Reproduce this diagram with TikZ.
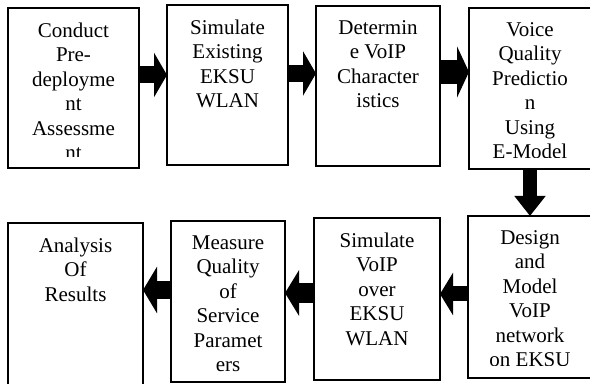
\documentclass[tikz,border=0pt]{standalone}
\usepackage{fontspec}
\setmainfont{Liberation Serif}
\usetikzlibrary{positioning}
\usetikzlibrary{arrows.meta}

\begin{document}
\begin{tikzpicture}[x=1pt,y=1pt,
	stagebox/.style={draw=black,line width=.6pt,minimum height=80pt,inner sep=0pt,outer sep=0pt,anchor=north west},
	stagetext/.style={align=center,inner sep=0pt,outer sep=0pt,font=\fontsize{10.5}{12.25}\selectfont},
	blockarrow/.style={line width=8.5pt,-{Triangle[length=6.5pt,width=22pt]}}]
	\useasboundingbox (0,0) rectangle (295,192);

	% first row, left to right
	\node [stagebox,minimum width=65.5pt] at (4,188) (pre_deploy) {};
	\node [stagebox,minimum width=60.5pt] at (83.5,189.5) (sim_wlan) {};
	\node [stagebox,minimum width=62pt] at (158,189) (voip_char) {};
	\node [stagebox,minimum width=61pt,minimum height=80.5pt] at (234.5,188) (e_model) {};

	% second row, right to left
	\node [stagebox,minimum width=62pt,minimum height=81pt] at (234,84) (design_voip) {};
	\node [stagebox,minimum width=63pt,minimum height=81pt] at (157,83) (sim_voip) {};
	\node [stagebox,minimum width=57pt,minimum height=80.5pt] at (85.5,81.5) (measure_qos) {};
	\node [stagebox,minimum width=67.5pt,minimum height=100pt] at (4,80.5) (analysis) {};

	% texts, the long ones cut off at the bottom margin
	\begin{scope}
		\clip (pre_deploy.north west) rectangle ([yshift=5.5pt]pre_deploy.south east);
		\node [stagetext,below=7.3pt of pre_deploy.north] (pre_deploy_txt) {Conduct\\Pre-\\deployme\\nt\\Assessme\\nt};
	\end{scope}
	\node [stagetext,below=7.3pt of sim_wlan.north] (sim_wlan_txt) {Simulate\\Existing\\EKSU\\WLAN};
	\node [stagetext,below=7.3pt of voip_char.north] (voip_char_txt) {Determin\\e VoIP\\Character\\istics};
	\begin{scope}
		\clip (e_model.north west) rectangle ([yshift=5.7pt]e_model.south east);
		\node [stagetext,below=7.3pt of e_model.north] (e_model_txt) {Voice\\Quality\\Predictio\\n\\Using\\E-Model};
	\end{scope}
	\begin{scope}
		\clip (design_voip.north west) rectangle ([yshift=6.2pt]design_voip.south east);
		\node [stagetext,below=7.3pt of design_voip.north] (design_voip_txt) {Design\\and\\Model\\VoIP\\network\\on EKSU};
	\end{scope}
	\node [stagetext,below=7.3pt of sim_voip.north] (sim_voip_txt) {Simulate\\VoIP\\over\\EKSU\\WLAN};
	\node [stagetext,below=7.3pt of measure_qos.north] (measure_qos_txt) {Measure\\Quality\\of\\Service\\Paramet\\ers};
	\node [stagetext,below=7.3pt of analysis.north] (analysis_txt) {Analysis\\Of\\Results};

	% fat arrows between the stages
	\path ([yshift=6.5pt]pre_deploy.east) coordinate (arr1);
	\path ([yshift=5.75pt]sim_wlan.east) coordinate (arr2);
	\path ([yshift=7pt]voip_char.east) coordinate (arr3);
	\path ([yshift=1.5pt]design_voip.west) coordinate (arr5);
	\path ([yshift=3pt]sim_voip.west) coordinate (arr6);
	\path ([yshift=5.75pt]measure_qos.west) coordinate (arr7);

	\draw [blockarrow] (arr1) -- (arr1 -| sim_wlan.west);
	\draw [blockarrow] (arr2) -- (arr2 -| voip_char.west);
	\draw [blockarrow,line width=12pt,-{Triangle[length=6pt,width=25.5pt]}] (arr3) -- (arr3 -| e_model.west);
	\draw [blockarrow,line width=7pt,-{Triangle[length=10pt,width=15pt]}] (e_model.south) -- (e_model.south |- design_voip.north);
	\draw [blockarrow,line width=7.5pt,-{Triangle[length=6.5pt,width=21pt]}] (arr5) -- (arr5 -| sim_voip.east);
	\draw [blockarrow,line width=10pt,-{Triangle[length=7pt,width=22.5pt]}] (arr6) -- (arr6 -| measure_qos.east);
	\draw [blockarrow,line width=9pt,-{Triangle[length=7pt,width=23pt]}] (arr7) -- (arr7 -| analysis.east);
\end{tikzpicture}
\end{document}
